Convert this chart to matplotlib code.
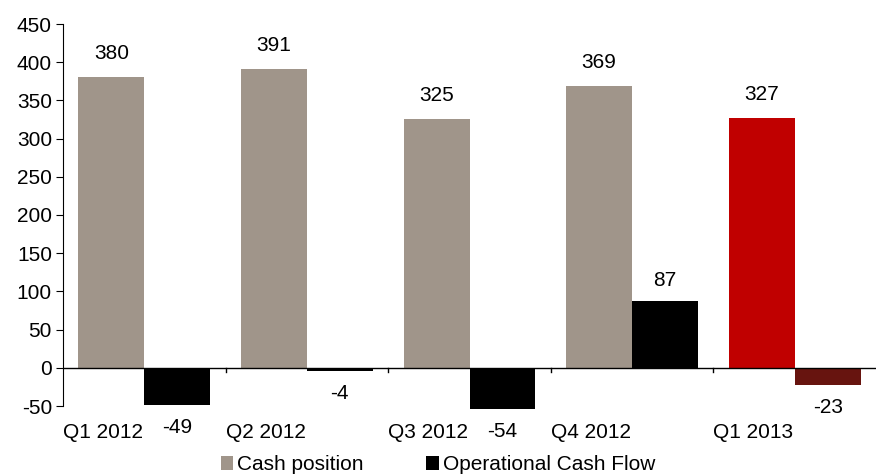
import matplotlib.pyplot as plt
import numpy as np

plt.rcParams['font.family'] = ['Liberation Sans', 'DejaVu Sans']
plt.rcParams['axes.unicode_minus'] = False

quarters = ['Q1 2012', 'Q2 2012', 'Q3 2012', 'Q4 2012', 'Q1 2013']
cash_position = [380, 391, 325, 369, 327]
operational_cf = [-49, -4, -54, 87, -23]

cash_colors = ['#A0958A'] * 4 + ['#C00000']
flow_colors = ['#000000'] * 4 + ['#67140F']

FS = 15

fig = plt.figure(figsize=(8.76, 4.75), dpi=100)
ax = fig.add_axes([63 / 876, 1 - 406 / 475, 813 / 876, 382 / 475])

x = np.arange(len(quarters))
w = 0.405
ax.bar(x - w / 2, cash_position, w, color=cash_colors, label='Cash position',
       clip_on=False)
ax.bar(x + w / 2, operational_cf, w, color=flow_colors, label='Operational Cash Flow',
       clip_on=False)

# value labels above positive bars, below negative ones
for xi, v in zip(x - w / 2, cash_position):
    ax.annotate(str(v), (xi, v), xytext=(0, 17), textcoords='offset points',
                ha='center', va='center', fontsize=FS, annotation_clip=False)
for xi, v in zip(x + w / 2, operational_cf):
    off = 15 if v > 0 else -16
    ax.annotate(str(v), (xi, v), xytext=(0, off), textcoords='offset points',
                ha='center', va='center', fontsize=FS, annotation_clip=False)

ax.set_xlim(-0.5, len(quarters) - 0.5)
ax.set_ylim(-50, 450)
ax.set_yticks(np.arange(-50, 451, 50))
ax.tick_params(axis='y', direction='out', length=5, labelsize=FS, pad=3)

# zero line with ticks between quarters
ax.axhline(0, color='black', lw=1)
ax.set_xticks([])
for b in x[1:] - 0.5:
    ax.plot([b, b], [0, -5], color='black', lw=1, clip_on=False)

# quarter names, left-aligned at the start of each group
for xi, q in zip(x - 0.5, quarters):
    ax.annotate(q, (xi, -50), xytext=(0, -19), textcoords='offset points',
                ha='left', va='center', fontsize=FS, annotation_clip=False)

for s in ['top', 'right', 'bottom']:
    ax.spines[s].set_visible(False)

fig.legend(loc='lower center', bbox_to_anchor=(0.5, -0.038), ncol=2, frameon=False,
           fontsize=FS, handlelength=0.6, handleheight=0.6, handletextpad=0.2,
           columnspacing=3.0)

fig.savefig('out.png', dpi=100)
